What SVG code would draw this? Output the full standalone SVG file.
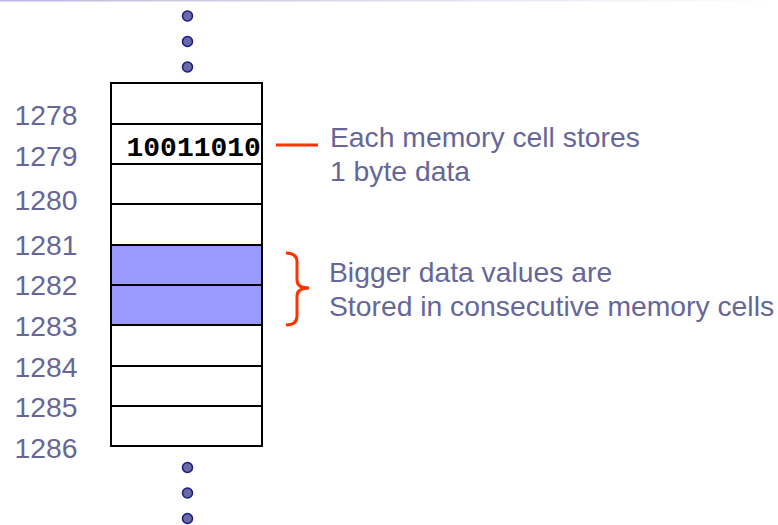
<svg xmlns="http://www.w3.org/2000/svg" width="778" height="525" viewBox="0 0 778 525">
<defs>
<linearGradient id="topfade" x1="0" y1="0" x2="1" y2="0">
<stop offset="0" stop-color="#b8b8e0"/>
<stop offset="0.6" stop-color="#e4e4f2"/>
<stop offset="1" stop-color="#ffffff"/>
</linearGradient>
<style>
.addr{font-family:"Liberation Sans",Arial,sans-serif;font-size:28.3px;fill:#666699}
.note{font-family:"Liberation Sans",Arial,sans-serif;font-size:28.3px;fill:#666699}
.bits{font-family:"Liberation Mono","Courier New",monospace;font-size:28px;font-weight:bold;fill:#000}
.cell{fill:#fff;stroke:#000;stroke-width:2}
.hl{fill:#9999ff;stroke:#000;stroke-width:2}
.dot{fill:#6a6aa8;stroke:#1a1a80;stroke-width:1.5}
.red{fill:none;stroke:#ff3300;stroke-width:3}
</style>
</defs>
<rect x="0" y="0" width="778" height="525" fill="#fff"/>
<rect x="0" y="0" width="778" height="1.5" fill="url(#topfade)"/>
<g id="dots-top">
<circle class="dot" cx="187.5" cy="16" r="5"/>
<circle class="dot" cx="187.5" cy="41.5" r="5"/>
<circle class="dot" cx="187.5" cy="67" r="5"/>
</g>
<g id="memory">
<rect class="cell" x="111" y="83" width="151" height="41"/>
<rect class="cell" x="111" y="124" width="151" height="40"/>
<rect class="cell" x="111" y="164" width="151" height="40"/>
<rect class="cell" x="111" y="204" width="151" height="41"/>
<rect class="hl" x="111" y="245" width="151" height="40"/>
<rect class="hl" x="111" y="285" width="151" height="40"/>
<rect class="cell" x="111" y="325" width="151" height="41"/>
<rect class="cell" x="111" y="366" width="151" height="40"/>
<rect class="cell" x="111" y="406" width="151" height="40"/>
<text class="bits" x="126.5" y="156">10011010</text>
</g>
<g id="addresses">
<text class="addr" x="14.5" y="125">1278</text>
<text class="addr" x="14.5" y="166">1279</text>
<text class="addr" x="14.5" y="209.5">1280</text>
<text class="addr" x="14.5" y="255">1281</text>
<text class="addr" x="14.5" y="295">1282</text>
<text class="addr" x="14.5" y="336">1283</text>
<text class="addr" x="14.5" y="377">1284</text>
<text class="addr" x="14.5" y="417">1285</text>
<text class="addr" x="14.5" y="458">1286</text>
</g>
<g id="dots-bottom">
<circle class="dot" cx="187.5" cy="467.5" r="5"/>
<circle class="dot" cx="187.5" cy="493" r="5"/>
<circle class="dot" cx="187.5" cy="518.5" r="5"/>
</g>
<g id="connectors">
<line class="red" x1="276" y1="145" x2="318" y2="145"/>
<path class="red" d="M286 253 Q297 253 297 262 L297 280 Q297 288 309 288 Q297 288 297 296 L297 316 Q297 325 286 325"/>
</g>
<g id="note-cell">
<text class="note" x="330" y="147">Each memory cell stores</text>
<text class="note" x="330" y="181">1 byte data</text>
</g>
<g id="note-consecutive">
<text class="note" x="329" y="282">Bigger data values are</text>
<text class="note" x="329" y="316">Stored in consecutive memory cells</text>
</g>
</svg>
